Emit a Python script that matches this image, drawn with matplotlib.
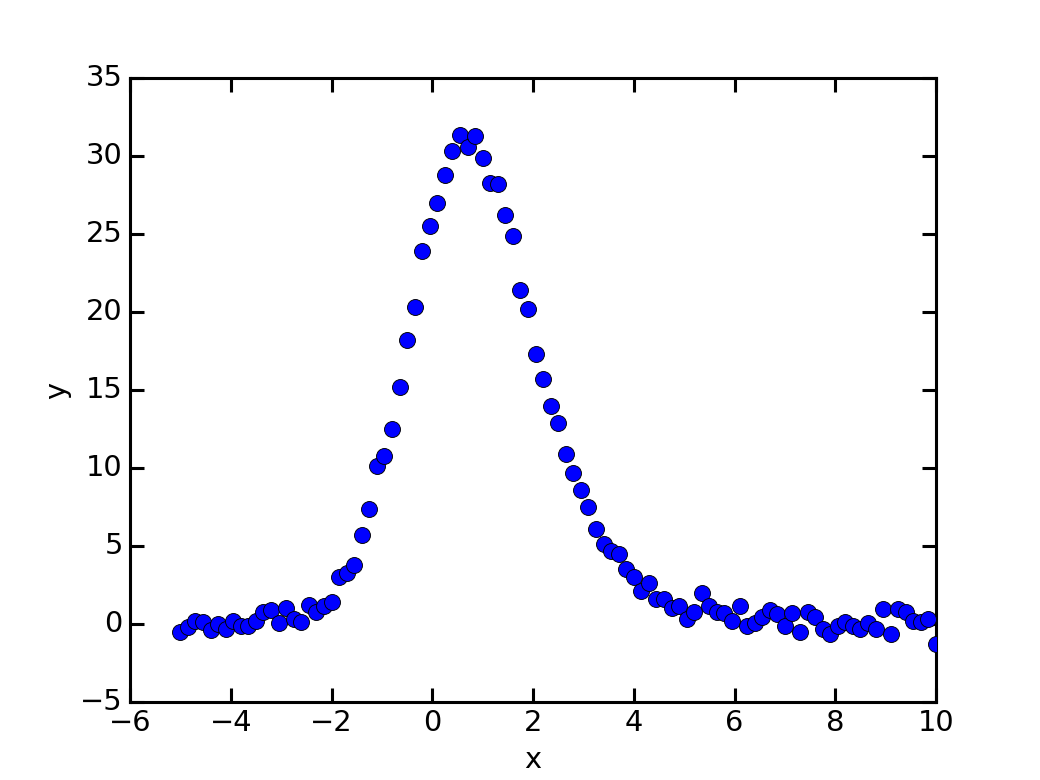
import numpy as np
import matplotlib
matplotlib.use('Agg')
import matplotlib.pyplot as plt

plt.style.use('classic')
plt.rcParams['font.size'] = 16

# x sampled from -5 to 10
x = np.linspace(-5, 10, 101)
y = [
    -0.52, -0.2, 0.2, 0.15, -0.4, 0.0, -0.3, 0.2, -0.1, -0.15,
    0.2, 0.8, 0.9, 0.05, 1.0, 0.35, 0.1, 1.2, 0.75, 1.15,
    1.4, 3.0, 3.26, 3.8, 5.7, 7.35, 10.1, 10.8, 12.5, 15.2,
    18.2, 20.3, 23.9, 25.5, 27.0, 28.8, 30.3, 31.35, 30.6, 31.3,
    29.9, 28.3, 28.2, 26.2, 24.9, 21.4, 20.2, 17.3, 15.7, 14.0,
    12.9, 10.9, 9.65, 8.6, 7.5, 6.1, 5.1, 4.65, 4.5, 3.5,
    3.0, 2.1, 2.6, 1.6, 1.6, 1.0, 1.15, 0.3, 0.75, 2.0,
    1.15, 0.75, 0.7, 0.2, 1.15, -0.1, 0.05, 0.45, 0.9, 0.65,
    -0.1, 0.7, -0.5, 0.8, 0.45, -0.3, -0.65, -0.15, 0.1, -0.15,
    -0.35, 0.05, -0.3, 0.95, -0.65, 0.95, 0.8, 0.2, 0.1, 0.35,
    -1.3,
]

fig, ax = plt.subplots(figsize=(8, 6), dpi=130)
fig.patch.set_facecolor('white')
ax.scatter(x, y, s=78, c='b', edgecolors='k', linewidths=0.5, zorder=3)
ax.set_xlim(-6, 10)
ax.set_ylim(-5, 35)
ax.set_xlabel('x', fontsize=16)
ax.set_ylabel('y', fontsize=16)

# heavier frame and ticks
for sp in ax.spines.values():
    sp.set_linewidth(1.7)
ax.tick_params(which='major', length=8, width=1.7, labelsize=16)

fig.savefig('out.png', dpi=130, facecolor='white')
